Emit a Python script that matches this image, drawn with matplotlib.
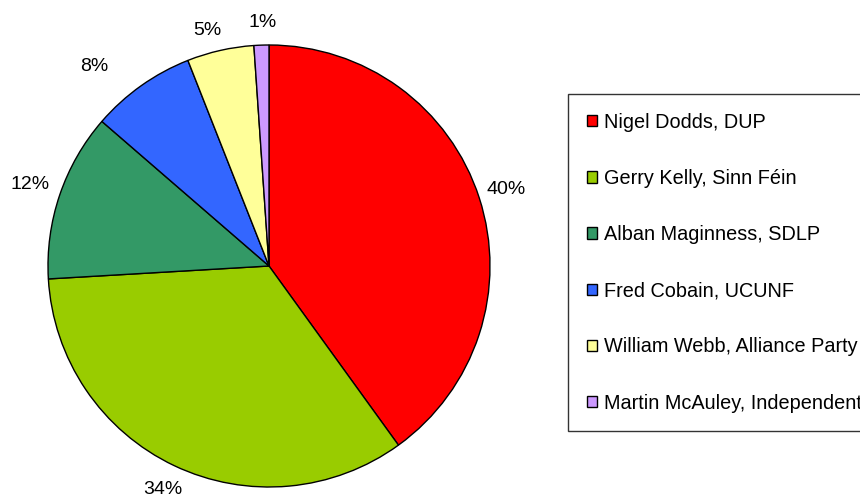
import numpy as np
import matplotlib.pyplot as plt

candidates = ['Nigel Dodds, DUP', 'Gerry Kelly, Sinn Féin', 'Alban Maginness, SDLP',
              'Fred Cobain, UCUNF', 'William Webb, Alliance Party', 'Martin McAuley, Independent']
votes = [14812, 12588, 4544, 2837, 1809, 403]
colors = ['#FF0000', '#99CC00', '#339966', '#3366FF', '#FFFF99', '#CC99FF']
# label placement nudges (degrees, radius) to mimic the spreadsheet's layout
label_angle_shift = [0, 0, 0, 6, 2, -0.5]
label_radius = [1.13, 1.12, 1.14, 1.2, 1.1, 1.1]

plt.rcParams['font.family'] = ['Liberation Sans', 'DejaVu Sans']

fig = plt.figure(figsize=(8.6, 4.97), dpi=100)

# Pie axes: centre (269, 266) px, radius ~221 px
r = 221
cx, cy = 269, 266
ax = fig.add_axes([(cx - r) / 860, 1 - (cy + r) / 497, 2 * r / 860, 2 * r / 497])
wedges, texts, autotexts = ax.pie(
    votes, colors=colors, startangle=90, counterclock=False,
    autopct='%1.0f%%', pctdistance=1.12,
    wedgeprops={'edgecolor': 'black', 'linewidth': 1.0},
    textprops={'fontsize': 14})
for w, t, da, lr in zip(wedges, autotexts, label_angle_shift, label_radius):
    ang = np.deg2rad((w.theta1 + w.theta2) / 2 + da)
    t.set_position((lr * np.cos(ang), lr * np.sin(ang)))
ax.set_xlim(-1, 1)
ax.set_ylim(-1, 1)
ax.set_aspect('equal')

# legend box runs off the right edge, as in the original
leg = fig.legend(wedges, candidates, loc='upper left',
                 bbox_to_anchor=(568 / 860, 1 - 94 / 497),
                 fontsize=14.3, frameon=True, fancybox=False,
                 edgecolor='black', labelspacing=1.87,
                 handlelength=0.5, handleheight=0.5, handletextpad=0.35,
                 borderpad=0.95, borderaxespad=0)
leg.get_frame().set_linewidth(1.0)

fig.savefig('out.png', dpi=100)
